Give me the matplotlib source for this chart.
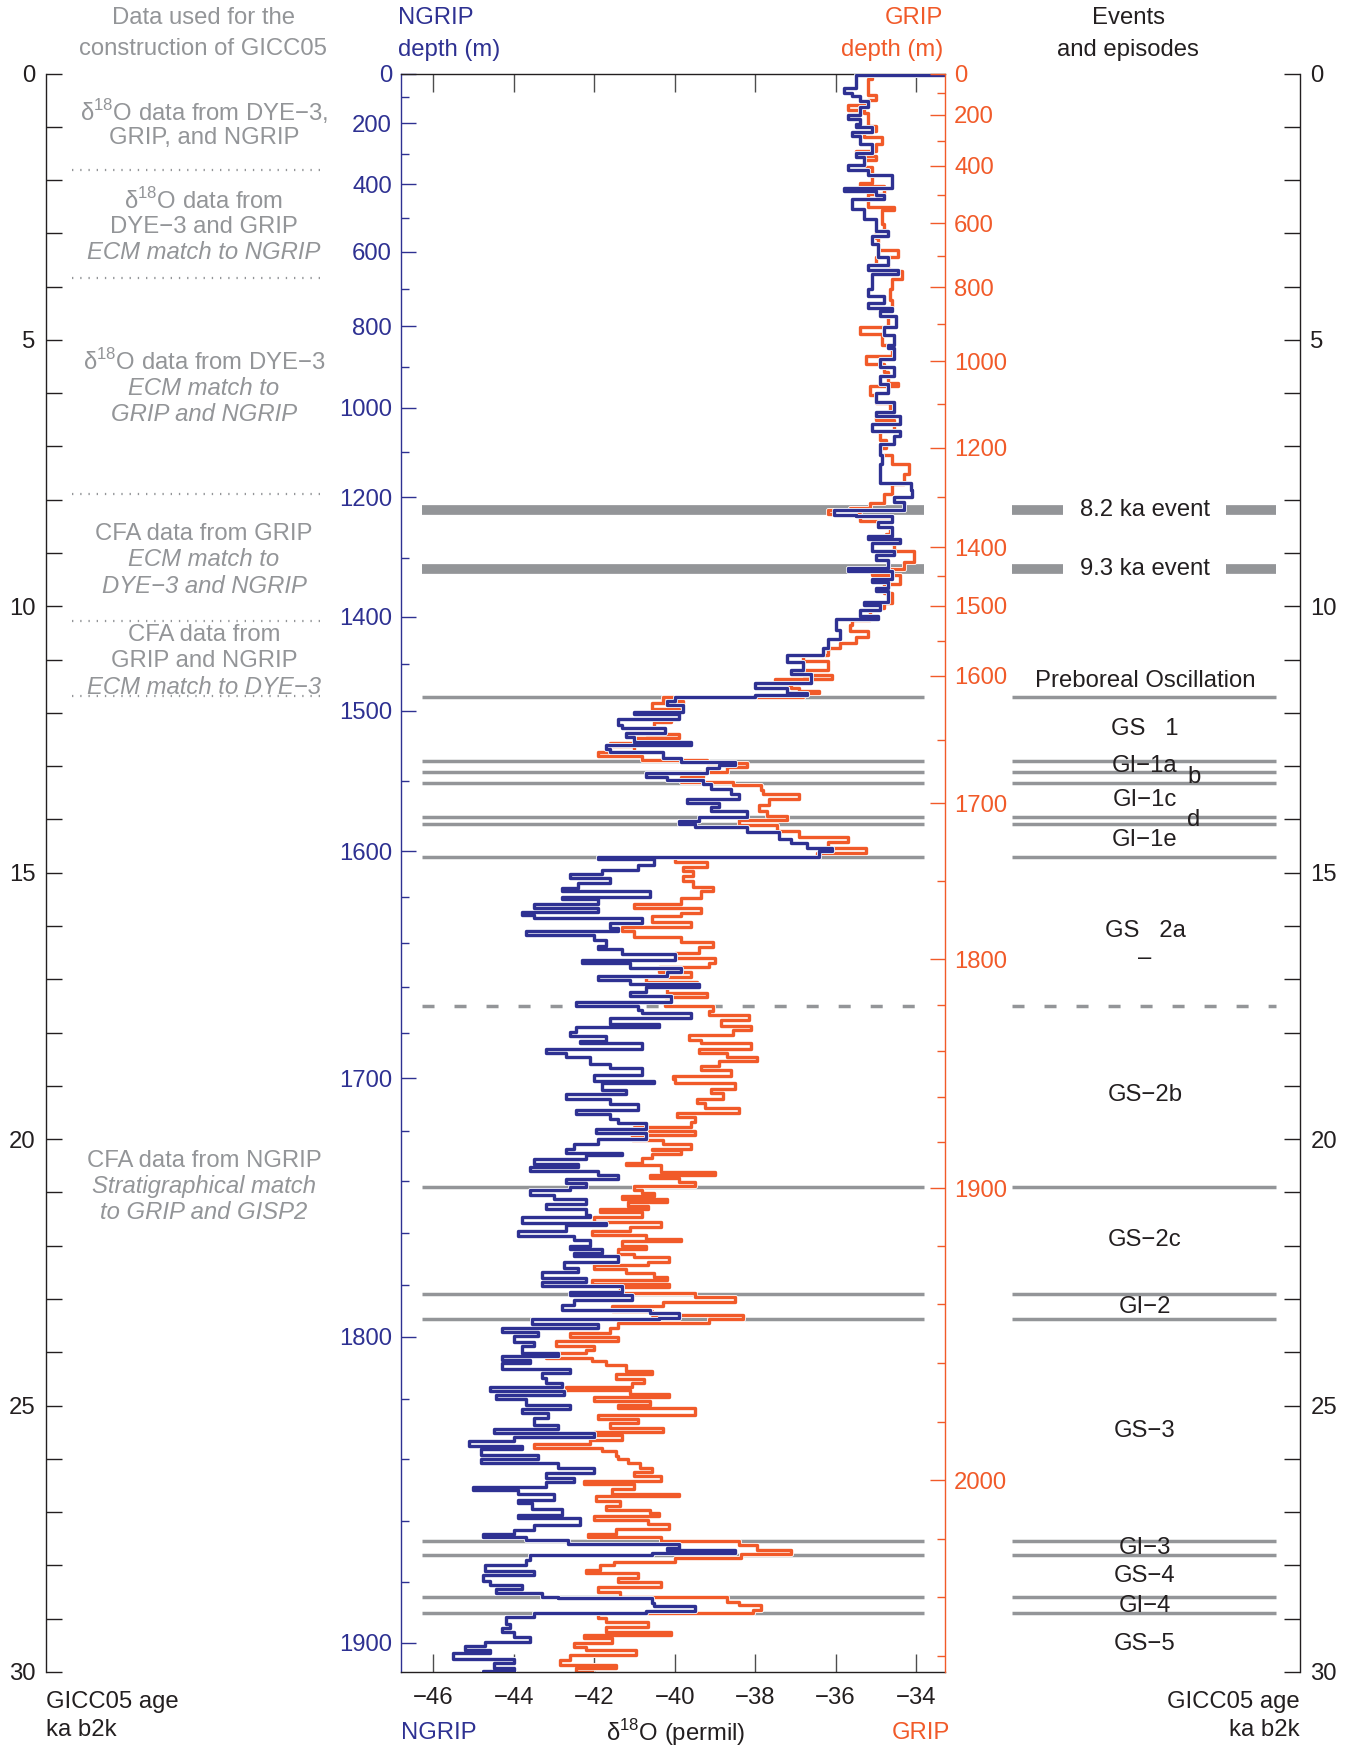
import matplotlib
matplotlib.use('Agg')
import matplotlib.pyplot as plt
import matplotlib.patheffects as pe
import numpy as np

plt.rcParams['font.family'] = ['Liberation Sans', 'DejaVu Sans']
plt.rcParams['mathtext.fontset'] = 'custom'
plt.rcParams['mathtext.rm'] = 'Liberation Sans'

W, H = 1354, 1748
BLUE = '#2e3192'
ORANGE = '#f15a29'
GREY = '#939598'
DARK = '#231f20'
FS = 17.2

# NGRIP d18O (permil) against GICC05 age (ka b2k)
ngrip_age = [
    0.00, 0.03, 0.28, 0.36, 0.43, 0.52, 0.62, 0.78, 0.85, 0.95, 1.01, 1.09, 1.17, 1.33, 1.50, 1.56,
    1.72, 1.82, 1.90, 2.14, 2.21, 2.28, 2.35, 2.55, 2.74, 2.95, 3.05, 3.20, 3.44, 3.60, 3.68, 3.76,
    4.05, 4.18, 4.30, 4.40, 4.45, 4.56, 4.76, 4.90, 5.09, 5.15, 5.35, 5.50, 5.67, 5.83, 5.99, 6.16,
    6.35, 6.42, 6.58, 6.71, 6.80, 6.96, 7.16, 7.32, 7.68, 7.82, 7.94, 8.04, 8.20, 8.29, 8.31, 8.42,
    8.52, 8.68, 8.73, 8.81, 8.97, 9.03, 9.13, 9.28, 9.33, 9.49, 9.55, 9.65, 9.72, 9.91, 9.98, 10.07,
    10.18, 10.24, 10.45, 10.62, 10.78, 10.91, 11.04, 11.20, 11.27, 11.43, 11.53, 11.63, 11.66, 11.70,
    11.77, 11.85, 11.99, 12.02, 12.12, 12.22, 12.29, 12.38, 12.45, 12.54, 12.61, 12.67, 12.74, 12.84,
    12.92, 12.97, 13.03, 13.12, 13.20, 13.26, 13.33, 13.42, 13.52, 13.62, 13.69, 13.77, 13.85, 13.95,
    14.03, 14.09, 14.14, 14.24, 14.37, 14.44, 14.54, 14.60, 14.70, 14.74, 14.86, 14.95, 15.02, 15.10,
    15.19, 15.29, 15.35, 15.45, 15.50, 15.58, 15.67, 15.73, 15.80, 15.84, 15.94, 16.04, 16.09, 16.17,
    16.27, 16.37, 16.43, 16.53, 16.63, 16.70, 16.79, 16.86, 16.94, 17.02, 17.09, 17.15, 17.24, 17.32,
    17.43, 17.51, 17.58, 17.64, 17.72, 17.84, 17.89, 17.98, 18.07, 18.16, 18.20, 18.30, 18.39, 18.46,
    18.59, 18.67, 18.79, 18.90, 18.95, 19.07, 19.16, 19.24, 19.34, 19.45, 19.52, 19.62, 19.70, 19.80,
    19.88, 19.99, 20.09, 20.19, 20.26, 20.30, 20.37, 20.46, 20.52, 20.59, 20.68, 20.74, 20.83, 20.90,
    20.96, 21.05, 21.12, 21.21, 21.31, 21.42, 21.47, 21.57, 21.62, 21.72, 21.82, 21.90, 22.00, 22.06,
    22.14, 22.20, 22.31, 22.41, 22.50, 22.60, 22.68, 22.75, 22.86, 22.93, 23.02, 23.11, 23.20, 23.27,
    23.35, 23.38, 23.47, 23.54, 23.62, 23.69, 23.81, 23.88, 24.02, 24.07, 24.14, 24.21, 24.31, 24.38,
    24.48, 24.57, 24.66, 24.73, 24.81, 24.88, 24.98, 25.06, 25.14, 25.23, 25.37, 25.44, 25.51, 25.59,
    25.67, 25.75, 25.81, 25.92, 26.01, 26.08, 26.17, 26.26, 26.36, 26.44, 26.52, 26.58, 26.65, 26.77,
    26.83, 26.95, 27.06, 27.11, 27.24, 27.33, 27.41, 27.47, 27.53, 27.59, 27.68, 27.71, 27.77, 27.80,
    27.90, 28.00, 28.10, 28.18, 28.29, 28.37, 28.45, 28.51, 28.59, 28.62, 28.70, 28.77, 28.85, 28.89,
    28.96, 29.09, 29.18, 29.24, 29.35, 29.43, 29.51, 29.59, 29.65, 29.75, 29.84, 29.93, 29.98, 30.00]
ngrip_d18o = [
    -33.3, -35.5, -35.8, -35.6, -35.4, -35.2, -35.4, -35.7, -35.4, -35.5, -35.1, -35.6, -35.4, -35.1, -35.5, -35.3,
    -35.7, -35.2, -34.6, -35.8, -35.0, -34.8, -35.6, -35.3, -35.0, -34.7, -35.1, -34.95, -34.7, -35.2, -34.45, -35.1,
    -35.2, -34.8, -35.2, -34.6, -34.9, -34.5, -34.8, -34.55, -34.7, -34.55, -34.9, -34.55, -34.9, -34.7, -35.0, -34.55,
    -35.0, -34.4, -35.1, -34.4, -34.55, -34.9, -34.85, -34.9, -34.13, -34.09, -34.54, -34.3, -36.05, -35.5, -34.6, -34.95,
    -34.6, -35.2, -34.4, -35.1, -34.55, -35.0, -34.7, -35.7, -34.6, -35.1, -34.7, -35.0, -34.7, -35.3, -34.9, -35.4,
    -34.94, -36.0, -35.9, -36.2, -36.3, -37.2, -36.8, -37.1, -36.6, -38.0, -37.2, -36.7, -38.0, -40.0,
    -40.2, -39.8, -41.0, -39.9, -41.4, -41.3, -40.25, -41.2, -41.0, -39.6, -41.7, -41.6, -40.3, -39.85,
    -38.5, -38.9, -39.2, -40.7, -40.2, -39.3, -39.1, -38.6, -38.4, -39.7, -38.9, -39.1, -38.2, -39.4,
    -39.9, -39.5, -38.2, -37.4, -37.1, -36.7, -36.1, -36.4, -41.9, -40.5, -40.9, -41.8, -42.6, -41.6,
    -42.4, -42.8, -40.6, -42.8, -41.9, -43.5, -41.9, -43.8, -43.5, -40.8, -41.6, -41.4, -43.7, -42.0,
    -41.7, -41.9, -41.3, -40.0, -42.3, -41.1, -39.85, -40.2, -41.9, -41.1, -39.4, -40.7, -41.1, -40.1,
    -42.45, -40.9, -40.8, -39.6, -41.6, -40.4, -42.45, -42.6, -41.7, -42.35, -40.8, -43.2, -42.7, -42.1,
    -41.6, -40.8, -42.0, -40.5, -41.8, -41.2, -42.7, -41.6, -40.9, -42.45, -41.6, -41.4, -40.7, -41.95,
    -40.7, -41.9, -42.5, -42.7, -41.3, -42.2, -43.5, -42.4, -43.6, -41.9, -41.4, -42.7, -42.2, -42.6,
    -43.6, -43.0, -42.2, -43.2, -42.2, -42.1, -43.8, -41.7, -42.7, -43.9, -42.5, -42.1, -42.6, -41.8,
    -42.5, -41.4, -42.75, -42.4, -43.3, -42.2, -43.3, -41.3, -42.6, -41.05, -42.5, -42.8, -40.6, -39.9,
    -40.4, -43.55, -41.9, -44.3, -43.4, -44.0, -43.5, -43.8, -42.9, -44.3, -43.6, -44.3, -42.6, -43.3,
    -43.2, -42.8, -44.6, -42.75, -44.45, -43.7, -42.6, -43.8, -43.15, -43.5, -42.9, -44.5, -42.0, -44.0,
    -45.1, -43.8, -44.8, -43.4, -44.8, -42.9, -42.0, -43.2, -42.5, -43.2, -45.0, -43.9, -43.0, -43.9,
    -43.55, -42.8, -43.9, -42.35, -43.5, -44.0, -44.75, -43.7, -42.65, -39.9, -40.2, -38.5, -40.55, -43.6,
    -43.7, -44.7, -43.5, -44.75, -44.6, -43.8, -44.45, -43.3, -42.9, -40.55, -40.5, -39.5, -40.7, -43.5,
    -44.2, -44.1, -44.3, -44.0, -43.6, -44.7, -45.2, -44.6, -45.5, -44.0, -44.5, -44.0, -44.75, -44.75]

# GRIP d18O (permil) against GICC05 age (ka b2k)
grip_age = [
    0.00, 0.10, 0.40, 0.49, 0.59, 0.69, 0.75, 0.98, 1.07, 1.19, 1.33, 1.45, 1.54, 1.62, 1.75, 2.05,
    2.11, 2.27, 2.50, 2.56, 2.82, 2.95, 3.08, 3.31, 3.44, 3.60, 3.70, 3.86, 4.05, 4.25, 4.41, 4.76,
    4.89, 5.09, 5.31, 5.46, 5.60, 5.80, 5.86, 6.03, 6.19, 6.35, 6.51, 6.71, 6.87, 7.03, 7.16, 7.32,
    7.51, 7.71, 7.90, 8.06, 8.16, 8.20, 8.27, 8.39, 8.65, 8.81, 8.97, 9.17, 9.29, 9.42, 9.59, 9.75,
    9.94, 10.04, 10.26, 10.35, 10.47, 10.58, 10.68, 10.78, 10.91, 11.03, 11.20, 11.28, 11.37, 11.47,
    11.53, 11.58, 11.63, 11.70, 11.77, 11.82, 11.92, 12.02, 12.10, 12.18, 12.28, 12.40, 12.48, 12.56,
    12.63, 12.73, 12.81, 12.88, 12.94, 13.01, 13.10, 13.20, 13.29, 13.36, 13.45, 13.52, 13.62, 13.72,
    13.84, 13.93, 14.01, 14.10, 14.21, 14.32, 14.43, 14.53, 14.62, 14.70, 14.80, 14.90, 14.97, 15.06,
    15.16, 15.26, 15.35, 15.47, 15.58, 15.67, 15.75, 15.81, 15.93, 16.02, 16.10, 16.20, 16.30, 16.39,
    16.50, 16.60, 16.70, 16.76, 16.86, 16.96, 17.05, 17.15, 17.25, 17.33, 17.41, 17.50, 17.59, 17.67,
    17.77, 17.87, 17.95, 18.05, 18.13, 18.20, 18.30, 18.39, 18.45, 18.54, 18.62, 18.70, 18.81, 18.87,
    18.95, 19.05, 19.14, 19.24, 19.33, 19.42, 19.50, 19.59, 19.67, 19.77, 19.85, 19.93, 20.01, 20.09,
    20.18, 20.21, 20.27, 20.36, 20.44, 20.49, 20.62, 20.67, 20.73, 20.81, 20.87, 20.95, 21.01, 21.07,
    21.12, 21.18, 21.26, 21.31, 21.37, 21.47, 21.55, 21.64, 21.72, 21.80, 21.87, 21.92, 22.00, 22.06,
    22.15, 22.22, 22.31, 22.37, 22.44, 22.51, 22.59, 22.64, 22.72, 22.78, 22.88, 22.97, 23.05, 23.13,
    23.22, 23.30, 23.38, 23.45, 23.54, 23.63, 23.71, 23.79, 23.88, 23.96, 24.02, 24.10, 24.16, 24.24,
    24.35, 24.41, 24.51, 24.57, 24.65, 24.71, 24.79, 24.83, 24.92, 24.98, 25.04, 25.17, 25.25, 25.32,
    25.42, 25.50, 25.56, 25.64, 25.72, 25.80, 25.86, 25.94, 26.01, 26.08, 26.17, 26.25, 26.33, 26.41,
    26.48, 26.57, 26.65, 26.70, 26.80, 26.88, 26.96, 27.02, 27.08, 27.14, 27.22, 27.32, 27.41, 27.47,
    27.55, 27.61, 27.71, 27.78, 27.86, 27.93, 27.99, 28.08, 28.15, 28.24, 28.32, 28.40, 28.49, 28.59,
    28.68, 28.74, 28.84, 28.90, 28.99, 29.07, 29.16, 29.24, 29.31, 29.37, 29.45, 29.53, 29.59, 29.68,
    29.78, 29.87, 29.93, 30.00]
grip_d18o = [
    -35.1, -35.2, -35.0, -35.2, -35.7, -35.3, -35.2, -35.0, -35.3, -34.85, -35.0, -35.5, -35.0, -35.3, -35.1, -35.4,
    -34.8, -35.2, -34.55, -34.85, -34.8, -35.0, -34.95, -34.45, -35.0, -34.7, -34.35, -34.6, -34.65, -34.6, -34.7, -35.4,
    -34.85, -34.6, -35.25, -34.8, -34.7, -34.45, -35.15, -35.0, -34.65, -35.0, -34.55, -34.9, -34.75, -34.9, -34.6, -34.17,
    -34.3, -34.6, -34.8, -35.15, -35.65, -36.2, -35.4, -34.65, -34.75, -34.55, -34.05, -34.3, -35.1, -34.4, -34.8, -34.6,
    -34.8, -35.15, -35.6, -35.65, -35.2, -35.5, -35.9, -36.2, -36.8, -36.2, -36.8, -36.1, -37.5, -37.1,
    -36.9, -36.4, -36.8, -40.3, -39.8, -40.55, -39.9, -40.5, -40.1, -40.5, -40.7, -39.9, -41.0, -41.6,
    -41.0, -41.9, -40.8, -39.2, -38.2, -38.7, -39.3, -39.85, -38.55, -37.85, -37.8, -36.9, -37.65, -37.9,
    -37.7, -37.2, -38.4, -37.45, -36.9, -35.7, -36.2, -35.25, -36.45, -40.0, -39.2, -39.8, -39.55, -39.8,
    -39.55, -39.05, -39.35, -39.85, -41.0, -39.35, -39.85, -40.55, -39.6, -41.3, -41.0, -39.85, -39.05, -39.4,
    -40.0, -39.0, -39.15, -40.4, -39.6, -40.7, -39.45, -40.2, -39.2, -40.1, -40.25, -39.05, -39.15, -38.15,
    -38.85, -38.1, -38.55, -39.65, -39.35, -38.1, -39.4, -38.7, -37.95, -38.9, -39.35, -38.6, -40.05, -40.0,
    -38.5, -39.1, -38.8, -39.45, -39.25, -38.4, -39.95, -39.5, -39.6, -41.0, -39.5, -41.05, -40.3, -39.6,
    -40.55, -39.85, -40.55, -40.8, -41.2, -40.35, -39.0, -40.6, -39.9, -39.5, -41.0, -40.8, -40.5, -41.3,
    -40.2, -41.15, -40.65, -41.85, -40.8, -42.0, -40.35, -41.1, -42.05, -40.7, -39.85, -41.3, -40.7, -41.4,
    -41.0, -40.15, -40.65, -42.0, -41.2, -40.5, -40.2, -42.05, -40.15, -41.35, -39.5, -38.5, -40.3, -41.55,
    -40.55, -38.3, -39.15, -41.4, -41.6, -42.6, -41.4, -42.95, -42.0, -42.2, -43.2, -42.05, -41.7, -41.2,
    -40.55, -41.45, -40.75, -41.05, -42.7, -41.1, -40.15, -42.0, -40.6, -41.4, -39.5, -41.9, -40.9, -41.6,
    -40.3, -42.0, -41.3, -42.1, -43.5, -41.8, -41.45, -41.4, -41.15, -40.85, -40.55, -41.0, -40.35, -42.25,
    -41.0, -41.55, -39.9, -41.95, -41.35, -41.7, -40.6, -40.4, -42.0, -40.65, -40.15, -41.45, -42.15, -40.35,
    -38.4, -37.95, -37.1, -38.35, -40.0, -41.5, -41.85, -42.2, -40.9, -41.4, -40.35, -41.9, -41.35, -38.7,
    -38.4, -37.85, -38.05, -41.9, -41.7, -40.65, -41.7, -40.1, -42.25, -41.55, -42.5, -42.2, -40.95, -42.6,
    -42.85, -41.45, -42.45, -42.05]

# depth (m) to age (ka b2k) tie points for the two depth scales
ngrip_depth = [0, 100, 200, 300, 400, 500, 600, 700, 800, 900, 1000, 1100, 1200, 1300, 1400, 1450,
               1500, 1550, 1600, 1620, 1640, 1660, 1680, 1700, 1720, 1740, 1760, 1780, 1800, 1820,
               1840, 1860, 1880, 1900]
ngrip_depth_age = [0.0, 0.44, 0.93, 1.51, 2.08, 2.72, 3.35, 4.04, 4.74, 5.51, 6.27, 7.11, 7.95, 9.09,
                   10.20, 11.09, 11.96, 13.28, 14.60, 15.46, 16.31, 17.15, 18.01, 18.86, 19.85, 20.79,
                   21.76, 22.74, 23.71, 24.87, 26.01, 27.16, 28.31, 29.45]
ngrip_labelled = [0, 200, 400, 600, 800, 1000, 1200, 1400, 1500, 1600, 1700, 1800, 1900]

grip_depth = [0, 100, 200, 300, 400, 500, 600, 700, 800, 900, 1000, 1100, 1200, 1300, 1400, 1450,
              1500, 1550, 1600, 1650, 1700, 1750, 1800, 1820, 1840, 1860, 1880, 1900, 1920, 1940,
              1960, 1980, 2000, 2020, 2040, 2060]
grip_depth_age = [0.0, 0.375, 0.77, 1.27, 1.73, 2.28, 2.81, 3.42, 4.01, 4.71, 5.40, 6.21, 7.02, 7.95,
                  8.89, 9.44, 9.99, 10.65, 11.30, 12.50, 13.70, 15.16, 16.62, 17.49, 18.35, 19.20,
                  20.06, 20.92, 22.01, 23.10, 24.20, 25.31, 26.40, 27.50, 28.60, 29.70]
grip_labelled = [0, 200, 400, 600, 800, 1000, 1200, 1400, 1500, 1600, 1700, 1800, 1900, 2000]

# events and episode boundaries (ka b2k)
cold_events = [8.2, 9.3]
boundaries = [11.7, 12.9, 13.1, 13.31, 13.96, 14.08, 14.7, 20.9, 22.9, 23.38, 27.55, 27.8, 28.6, 28.89]
gs2_split = [17.5]

episode_names = ['8.2 ka event', '9.3 ka event', 'Preboreal Oscillation', 'GS   1', 'GI−1a', 'b',
                 'GI−1c', 'd', 'GI−1e', 'GS   2a', '–', 'GS−2b', 'GS−2c', 'GI−2', 'GS−3', 'GI−3',
                 'GS−4', 'GI−4', 'GS−5']
episode_ages = [8.2, 9.3, 11.4, 12.3, 12.99, 13.2, 13.64, 14.01, 14.39, 16.09, 16.6, 19.18, 21.9,
                23.15, 25.48, 27.67, 28.2, 28.76, 29.47]

# data sources used for the GICC05 construction
source_bounds = [1.82, 3.83, 7.89, 10.27, 11.69]
source_plain = [['δ$^{\\mathregular{18}}$O data from DYE−3,', 'GRIP, and NGRIP'],
                ['δ$^{\\mathregular{18}}$O data from', 'DYE−3 and GRIP'],
                ['δ$^{\\mathregular{18}}$O data from DYE−3'],
                ['CFA data from GRIP'],
                ['CFA data from', 'GRIP and NGRIP'],
                ['CFA data from NGRIP']]
source_italic = [[],
                 ['ECM match to NGRIP'],
                 ['ECM match to', 'GRIP and NGRIP'],
                 ['ECM match to', 'DYE−3 and NGRIP'],
                 ['ECM match to DYE−3'],
                 ['Stratigraphical match', 'to GRIP and GISP2']]


def fx(px):
    return px / W


def fy(py):
    return 1 - py / H


top, bottom = 73.5, 1672
fig = plt.figure(figsize=(W / 100, H / 100), dpi=100)

# outer frame: the two age axes, the source panel and the events panel
frame = fig.add_axes([fx(46), fy(bottom), fx(1300 - 46), (bottom - top) / H], zorder=0)
frame.set_xlim(46, 1300)
frame.set_ylim(30, 0)
frame.set_xticks([])
for side in ['top', 'bottom']:
    frame.spines[side].set_visible(False)
for side in ['left', 'right']:
    frame.spines[side].set_color(DARK)
    frame.spines[side].set_linewidth(1)
frame.set_yticks(range(0, 31, 5))
frame.set_yticks(range(0, 31), minor=True)
frame.tick_params(axis='y', which='both', direction='in', length=11.5, width=1, color=DARK,
                  left=True, right=True, labelleft=True, labelright=True,
                  labelsize=FS, labelcolor=DARK, pad=7.5)

frame.hlines(source_bounds, 72, 325, color=GREY, lw=1.6, linestyles=(0, (0.6, 3.1)))
edges = [0] + source_bounds + [30]
for i in range(len(source_plain)):
    lines = [(t, 'normal') for t in source_plain[i]] + [(t, 'italic') for t in source_italic[i]]
    mid = (edges[i] + edges[i + 1]) / 2 + 0.05
    for j, (t, style) in enumerate(lines):
        age = mid + (j - (len(lines) - 1) / 2) * 0.49
        frame.text(204, age, t, ha='center', va='center', color=GREY, fontsize=FS, fontstyle=style)

frame.hlines(boundaries, 1012, 1276, color=GREY, lw=2.5)
frame.hlines(gs2_split, 1012, 1276, color=GREY, lw=2.5, linestyles=(0, (3.46, 5.76)))
frame.hlines(cold_events, 1012, 1063, color=GREY, lw=7)
frame.hlines(cold_events, 1226, 1276, color=GREY, lw=7)
for name, age in zip(episode_names, episode_ages):
    x = 1194 if len(name) == 1 and name != '–' else 1145
    frame.text(x, age, name, ha='center', va='center', color=DARK, fontsize=FS)

# main panel
ax = fig.add_axes([fx(401), fy(bottom), fx(945 - 401), (bottom - top) / H], zorder=1)
ax.set_xlim(-46.8, -33.28)
ax.set_ylim(30, 0)
ax2 = ax.twinx()
ax2.set_ylim(30, 0)

yband = ax.get_yaxis_transform()
ax.hlines(boundaries, 0.0395, 0.961, transform=yband, color=GREY, lw=2.5, zorder=1)
ax.hlines(gs2_split, 0.0395, 0.961, transform=yband, color=GREY, lw=2.5,
          linestyles=(0, (3.46, 5.76)), zorder=1)
ax.hlines(cold_events, 0.0395, 0.961, transform=yband, color=GREY, lw=7, zorder=1)

halo = [pe.Stroke(linewidth=3.6, foreground='white'), pe.Normal()]
ax.plot(grip_d18o, grip_age, drawstyle='steps-pre', color=ORANGE, lw=2.4, path_effects=halo, zorder=2)
ax.plot(ngrip_d18o, ngrip_age, drawstyle='steps-pre', color=BLUE, lw=2.4, path_effects=halo, zorder=3)

ax.set_xticks(range(-46, -33, 2))
ax.tick_params(axis='x', direction='in', length=13, width=1, color='#4d4d4d', top=True,
               labelsize=FS, labelcolor=DARK, pad=11)

ng_major = [d for d in ngrip_depth if d in ngrip_labelled]
ng_minor = [d for d in ngrip_depth if d not in ngrip_labelled]
ax.set_yticks(np.interp(ng_major, ngrip_depth, ngrip_depth_age), [str(d) for d in ng_major])
ax.set_yticks(np.interp(ng_minor, ngrip_depth, ngrip_depth_age), minor=True)
ax.tick_params(axis='y', which='major', direction='in', length=10.8, width=1, color=BLUE,
               labelsize=FS, labelcolor=BLUE, pad=6.5)
ax.tick_params(axis='y', which='minor', direction='in', length=5.8, width=1, color=BLUE)

gr_major = [d for d in grip_depth if d in grip_labelled]
gr_minor = [d for d in grip_depth if d not in grip_labelled]
ax2.set_yticks(np.interp(gr_major, grip_depth, grip_depth_age), [str(d) for d in gr_major])
ax2.set_yticks(np.interp(gr_minor, grip_depth, grip_depth_age), minor=True)
ax2.tick_params(axis='y', which='major', direction='in', length=10.8, width=1, color=ORANGE,
                labelsize=FS, labelcolor=ORANGE, pad=6.5)
ax2.tick_params(axis='y', which='minor', direction='in', length=5.8, width=1, color=ORANGE)

ax.spines['left'].set_color(BLUE)
ax.spines['right'].set_visible(False)
ax.spines['top'].set_color(DARK)
ax.spines['bottom'].set_color(DARK)
for side in ['left', 'top', 'bottom']:
    ax2.spines[side].set_visible(False)
ax2.spines['right'].set_color(ORANGE)
for s in list(ax.spines.values()) + list(ax2.spines.values()):
    s.set_linewidth(1)

# headers and footers
fig.text(fx(203), fy(18), 'Data used for the', ha='center', va='center', color=GREY, fontsize=FS)
fig.text(fx(203), fy(49), 'construction of GICC05', ha='center', va='center', color=GREY, fontsize=FS)
fig.text(fx(398), fy(18), 'NGRIP', ha='left', va='center', color=BLUE, fontsize=FS)
fig.text(fx(398), fy(50), 'depth (m)', ha='left', va='center', color=BLUE, fontsize=FS)
fig.text(fx(943), fy(18), 'GRIP', ha='right', va='center', color=ORANGE, fontsize=FS)
fig.text(fx(943), fy(50), 'depth (m)', ha='right', va='center', color=ORANGE, fontsize=FS)
fig.text(fx(1128), fy(18), 'Events', ha='center', va='center', color=DARK, fontsize=FS)
fig.text(fx(1128), fy(50), 'and episodes', ha='center', va='center', color=DARK, fontsize=FS)

fig.text(fx(46), fy(1702), 'GICC05 age', ha='left', va='center', color=DARK, fontsize=FS)
fig.text(fx(46), fy(1730), 'ka b2k', ha='left', va='center', color=DARK, fontsize=FS)
fig.text(fx(1300), fy(1702), 'GICC05 age', ha='right', va='center', color=DARK, fontsize=FS)
fig.text(fx(1300), fy(1730), 'ka b2k', ha='right', va='center', color=DARK, fontsize=FS)
fig.text(fx(401), fy(1733), 'NGRIP', ha='left', va='center', color=BLUE, fontsize=FS)
fig.text(fx(676), fy(1733), 'δ$^{\\mathregular{18}}$O (permil)', ha='center', va='center',
         color=DARK, fontsize=FS)
fig.text(fx(950), fy(1733), 'GRIP', ha='right', va='center', color=ORANGE, fontsize=FS)

fig.savefig('out.png', dpi=100)
